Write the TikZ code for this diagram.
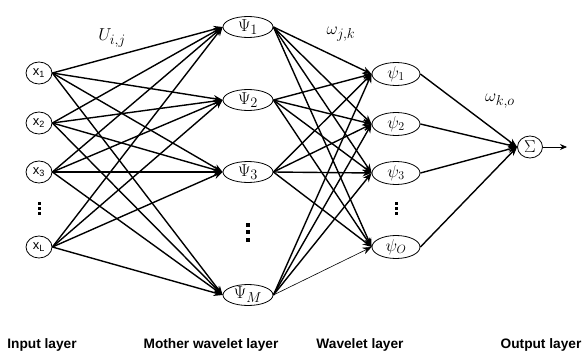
\documentclass[tikz,border=0pt]{standalone}
\usepackage{fontspec}
\setsansfont{Liberation Sans}
\usetikzlibrary{
    arrows.meta,
    shapes.geometric
}
\usepackage{amsmath, amssymb}

\begin{document}
\begin{tikzpicture}[
    x=1pt, y=-1pt,
    inputnode/.style = {ellipse, draw, thick, minimum width=26pt, minimum height=22pt,
                        inner sep=-1pt, font=\sffamily\fontsize{13}{15}\selectfont},
    mothernode/.style = {ellipse, draw, thick, minimum width=50pt, minimum height=21pt,
                         inner sep=-1.5pt, font=\fontsize{19}{22}\selectfont},
    waveletnode/.style = {ellipse, draw, thick, minimum width=48pt, minimum height=23pt,
                          inner sep=-1.5pt, font=\fontsize{17}{20}\selectfont},
    sumnode/.style = {ellipse, draw, thick, minimum width=25pt, minimum height=22pt,
                      inner sep=-1pt, font=\fontsize{17}{20}\selectfont},
    weightlabel/.style = {font=\fontsize{19}{22}\selectfont},
    linkarrow/.style = {line width=1.4pt, -{Stealth[length=9pt,width=7pt]}},
    layerlabel/.style = {font=\sffamily\bfseries\fontsize{13.7}{16}\selectfont},
    dotmark/.style = {fill=black}
]
    \useasboundingbox (0,0) rectangle (583,356);

    % input layer
    \node[inputnode] (X1) at (39,73) {x\textsubscript{1}};
    \node[inputnode] (X2) at (39,123) {x\textsubscript{2}};
    \node[inputnode] (X3) at (39,172) {x\textsubscript{3}};
    \node[inputnode] (XL) at (39,247) {x\textsubscript{L}};

    % mother wavelet layer
    \node[mothernode] (M1) at (248,27) {$\Psi_1$};
    \node[mothernode] (M2) at (248,100) {$\Psi_2$};
    \node[mothernode] (M3) at (248,172) {$\Psi_3$};
    \node[mothernode] (MM) at (248,295) {$\Psi_M$};

    % wavelet layer
    \node[waveletnode] (W1) at (396,74) {$\psi_1$};
    \node[waveletnode] (W2) at (396,124) {$\psi_2$};
    \node[waveletnode] (W3) at (396,173) {$\psi_3$};
    \node[waveletnode] (WO) at (396,247) {$\psi_O$};

    % output layer
    \node[sumnode] (S) at (530,147) {$\Sigma$};
    \coordinate (out) at (567,147);

    % dots
    \foreach \y in {203,208,213}
        \fill[dotmark] (37.5,\y-1.5) rectangle ++(3,3);
    \foreach \y in {225,232,240}
        \fill[dotmark] (246,\y-2) rectangle ++(4,4);
    \foreach \y in {203,208,213}
        \fill[dotmark] (394.5,\y-1.5) rectangle ++(3,3);

    % weights
    \node[weightlabel] (U) at (112,38) {$U_{i,j}$};
    \node[weightlabel] (wjk) at (341,34) {$\omega_{j,k}$};
    \node[weightlabel] (wko) at (500,101) {$\omega_{k,o}$};

    \foreach \i in {X1,X2,X3,XL}
        \foreach \j in {M1,M2,M3,MM}
            \draw[linkarrow] (\i.east) -- (\j.west);

    \foreach \j in {M1,M2,M3}
        \foreach \k in {W1,W2,W3,WO}
            \draw[linkarrow] (\j.east) -- (\k.west);
    \foreach \k in {W1,W2,W3}
        \draw[linkarrow] (MM.east) -- (\k.west);
    \draw[semithick, -{Stealth[length=9pt,width=7pt]}] (MM.east) -- (WO.west);

    \foreach \k in {W1,W2,W3,WO}
        \draw[linkarrow] (\k.east) -- (S.west);
    \draw[thick, -{Stealth[length=7pt,width=6pt]}] (S.east) -- (out);

    % layer names
    \node[layerlabel] (LI) at (42,345) {Input layer};
    \node[layerlabel] (LM) at (211,345) {Mother wavelet layer};
    \node[layerlabel] (LW) at (360,345) {Wavelet layer};
    \node[layerlabel] (LO) at (541,345) {Output layer};
\end{tikzpicture}
\end{document}
